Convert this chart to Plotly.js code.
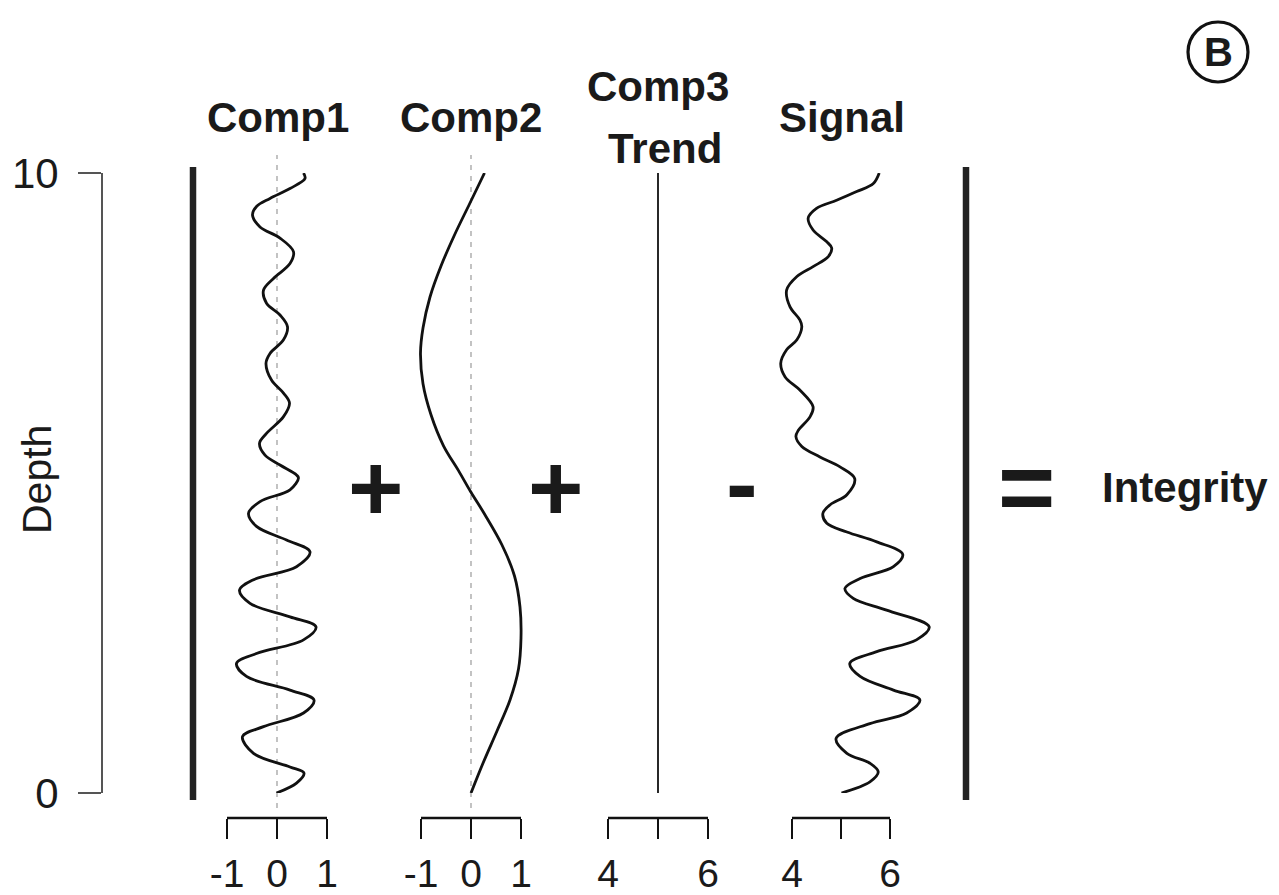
<!DOCTYPE html>
<html>
<head>
<meta charset="utf-8">
<script src="https://cdn.plot.ly/plotly-3.0.1.min.js"></script>
<style>
  html, body { margin: 0; padding: 0; background: #ffffff; }
  #chart { width: 1279px; height: 895px; }
</style>
</head>
<body>
<div id="chart"></div>
<script>
// ---- data: depth profiles of each component ----
const comp1Depth = [10.0, 9.91, 9.75, 9.59, 9.46, 9.32, 9.13, 8.95, 8.73, 8.54, 8.30, 8.11, 7.90, 7.71, 7.52, 7.31, 7.09, 6.93, 6.66, 6.45, 6.29, 6.07, 5.80, 5.64, 5.45, 5.29, 5.13, 5.08, 4.89, 4.70, 4.51, 4.30, 4.08, 3.89, 3.65, 3.44, 3.27, 3.06, 2.84, 2.68, 2.47, 2.25, 2.09, 1.88, 1.66, 1.50, 1.29, 1.07, 0.91, 0.64, 0.42, 0.32, 0.16, 0.0];
const comp1Value = [0.53, 0.56, 0.26, -0.14, -0.41, -0.49, -0.34, 0.06, 0.33, 0.26, -0.07, -0.27, -0.21, 0.06, 0.21, 0.13, -0.14, -0.22, -0.11, 0.13, 0.25, 0.13, -0.21, -0.35, -0.24, 0.06, 0.39, 0.43, 0.26, -0.34, -0.57, -0.41, 0.19, 0.66, 0.39, -0.47, -0.75, -0.54, 0.26, 0.78, 0.53, -0.41, -0.81, -0.61, 0.26, 0.74, 0.53, -0.27, -0.69, -0.47, 0.26, 0.54, 0.39, -0.01];

const comp2Depth = [10.0, 9.5, 9.0, 8.5, 8.0, 7.5, 7.1, 6.6, 6.1, 5.6, 5.2, 4.85, 4.5, 4.0, 3.5, 3.0, 2.5, 2.0, 1.5, 1.0, 0.5, 0.0];
const comp2Value = [0.27, -0.03, -0.33, -0.60, -0.82, -0.96, -1.01, -0.96, -0.80, -0.55, -0.25, 0.0, 0.27, 0.62, 0.87, 0.98, 1.0, 0.95, 0.78, 0.52, 0.25, 0.0];

const trendDepth = [0, 10];
const trendValue = [5, 5];

const signalDepth = [10.0, 9.83, 9.70, 9.56, 9.43, 9.27, 9.08, 8.89, 8.79, 8.65, 8.49, 8.33, 8.11, 7.84, 7.63, 7.52, 7.31, 7.15, 6.93, 6.71, 6.50, 6.23, 6.07, 5.85, 5.75, 5.59, 5.42, 5.26, 5.07, 4.81, 4.65, 4.51, 4.35, 4.21, 4.05, 3.85, 3.65, 3.46, 3.30, 3.14, 2.95, 2.68, 2.47, 2.28, 2.09, 1.88, 1.66, 1.50, 1.29, 1.12, 0.88, 0.64, 0.48, 0.34, 0.18, 0.0];
const signalValue = [5.78, 5.66, 5.32, 4.91, 4.50, 4.33, 4.43, 4.71, 4.81, 4.74, 4.43, 4.10, 3.89, 3.96, 4.16, 4.20, 4.10, 3.89, 3.77, 3.86, 4.16, 4.43, 4.37, 4.13, 4.08, 4.20, 4.57, 4.98, 5.28, 5.12, 4.78, 4.63, 4.71, 5.12, 5.73, 6.26, 6.07, 5.39, 5.08, 5.25, 5.93, 6.80, 6.54, 5.73, 5.18, 5.39, 6.07, 6.61, 6.34, 5.59, 4.90, 5.12, 5.59, 5.76, 5.59, 5.01];

// ---- axis labels and panel titles ----
const depthTicks = [0, 10];
const depthTickText = ['0', '10'];
const compTicks = [-1, 0, 1];
const compTickText = ['-1', '0', '1'];
const levelTicks = [4, 5, 6];
const levelTickText = ['4', '', '6'];
const panelTitles = ['Comp1', 'Comp2', 'Comp3', 'Trend', 'Signal'];
const operators = ['+', '+', '-', '='];
const resultLabel = 'Integrity';
const panelTag = 'B';
const depthTitle = 'Depth';

// ---- page geometry helpers (pixels -> paper fractions) ----
const W = 1279, H = 895;
const px = x => x / W;
const py = y => 1 - y / H;

const FONT = 'Liberation Sans, Arial, Helvetica, sans-serif';
const INK = '#111111';
const AXIS_Y = 818;

function valueAxis(domainPx, range, ticks, text) {
  return {
    domain: [px(domainPx[0]), px(domainPx[1])],
    range: range,
    anchor: 'free',
    position: py(AXIS_Y),
    showline: false,
    showgrid: false,
    zeroline: false,
    ticks: 'outside',
    ticklen: 20,
    tickwidth: 2.5,
    tickcolor: INK,
    tickvals: ticks,
    ticktext: text,
    ticklabelstandoff: 1,
    tickfont: { family: FONT, size: 39, color: '#1a1a1a' },
    fixedrange: true
  };
}

const curveLine = { color: INK, width: 2.8, shape: 'spline', smoothing: 1 };

const traces = [
  { x: comp1Value, y: comp1Depth, xaxis: 'x', yaxis: 'y', mode: 'lines', line: curveLine, hoverinfo: 'skip' },
  { x: comp2Value, y: comp2Depth, xaxis: 'x2', yaxis: 'y', mode: 'lines', line: curveLine, hoverinfo: 'skip' },
  { x: trendValue, y: trendDepth, xaxis: 'x3', yaxis: 'y', mode: 'lines', line: { color: INK, width: 1.8 }, hoverinfo: 'skip' },
  { x: signalValue, y: signalDepth, xaxis: 'x4', yaxis: 'y', mode: 'lines', line: curveLine, hoverinfo: 'skip' }
];

function bracket(xref, a, b) {
  return { type: 'line', xref: xref, yref: 'paper', x0: a, x1: b, y0: py(AXIS_Y), y1: py(AXIS_Y),
           line: { color: INK, width: 2.5 } };
}
function zeroGuide(xref) {
  return { type: 'line', xref: xref, yref: 'paper', x0: 0, x1: 0, y0: py(808), y1: py(155),
           line: { color: '#b4b4b4', width: 1.6, dash: '5px,6px' }, layer: 'below' };
}
function bar(xPix) {
  return { type: 'line', xref: 'paper', yref: 'paper', x0: px(xPix), x1: px(xPix), y0: py(800), y1: py(167),
           line: { color: '#222222', width: 6.5 } };
}

const shapes = [
  bar(193), bar(966),
  zeroGuide('x'), zeroGuide('x2'),
  bracket('x', -1, 1), bracket('x2', -1, 1), bracket('x3', 4, 6), bracket('x4', 4, 6),
  { type: 'circle', xref: 'paper', yref: 'paper', x0: px(1188), x1: px(1248), y0: py(82), y1: py(22),
    line: { color: INK, width: 3.2 } }
];

function label(text, xPix, yPix, size, bold, extra) {
  return Object.assign({
    text: text, xref: 'paper', yref: 'paper', x: px(xPix), y: py(yPix),
    xanchor: 'center', yanchor: 'middle', showarrow: false,
    font: { family: FONT, size: size, color: '#1a1a1a', weight: bold ? 700 : 400 }
  }, extra || {});
}

const annotations = [
  label(panelTitles[0], 278, 118, 42, true),
  label(panelTitles[1], 471, 118, 42, true),
  label(panelTitles[2], 658, 87, 42, true),
  label(panelTitles[3], 665, 148, 42, true),
  label(panelTitles[4], 842, 118, 42, true),
  label(operators[0], 375, 487, 95, true),
  label(operators[1], 555, 487, 95, true),
  label(operators[2], 742, 483, 95, true),
  label(operators[3], 1026, 487, 98, true),
  label(resultLabel, 1185, 487, 42, true),
  label(panelTag, 1218, 52, 40, true),
  label(depthTitle, 37, 480, 41, false, { textangle: -90 })
];

const layout = {
  width: W, height: H,
  margin: { l: 0, r: 0, t: 0, b: 0, pad: 0 },
  paper_bgcolor: '#ffffff', plot_bgcolor: 'rgba(0,0,0,0)',
  showlegend: false,
  yaxis: {
    domain: [py(793), py(173)], range: [0, 10],
    anchor: 'free', position: px(102),
    showline: true, linecolor: '#555555', linewidth: 2,
    showgrid: false, zeroline: false,
    ticks: 'outside', ticklen: 23, tickwidth: 2, tickcolor: '#555555',
    tickvals: depthTicks, ticktext: depthTickText,
    ticklabelstandoff: 11,
    tickfont: { family: FONT, size: 42, color: '#1a1a1a' },
    fixedrange: true
  },
  xaxis: valueAxis([202, 352], [-1.5, 1.5], compTicks, compTickText),
  xaxis2: valueAxis([396, 546], [-1.5, 1.5], compTicks, compTickText),
  xaxis3: valueAxis([583, 733], [3.5, 6.5], levelTicks, levelTickText),
  xaxis4: valueAxis([752, 940], [4 + (752 - 792) / 49, 4 + (940 - 792) / 49], levelTicks, levelTickText),
  shapes: shapes,
  annotations: annotations
};

Plotly.newPlot('chart', traces, layout, { displayModeBar: false, staticPlot: true });
</script>
</body>
</html>
